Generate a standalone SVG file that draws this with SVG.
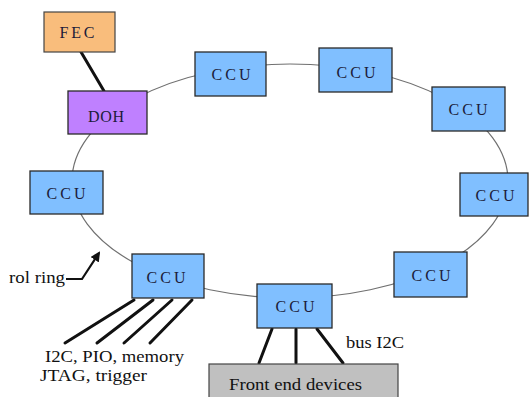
<svg xmlns="http://www.w3.org/2000/svg" width="529" height="397" viewBox="0 0 529 397">
<defs>
<style>
.ring{fill:none;stroke:#707070;stroke-width:1.2}
.ccu rect{fill:#80BFFF;stroke:#2a2a2a;stroke-width:1.3}
.lbl{font-family:"Liberation Serif","Times New Roman",serif;font-size:16px;fill:#1c1c3a;text-anchor:middle}
.thick{stroke:#111;stroke-width:3;fill:none;stroke-linecap:round}
.serif{font-family:"Liberation Serif","Times New Roman",serif;font-size:17px;fill:#111}
.small{font-size:16px}
</style>
<marker id="ah" markerWidth="10" markerHeight="10" refX="8" refY="5" orient="auto" markerUnits="userSpaceOnUse">
<path d="M0,0 L10,5 L0,10 z" fill="#111"/>
</marker>
</defs>
<rect width="529" height="397" fill="#fff"/>
<g id="connectors">
<ellipse class="ring" cx="290" cy="181" rx="218" ry="117"/>
<line class="thick" x1="81" y1="52" x2="104" y2="91"/>
<line class="thick" x1="134" y1="300" x2="65" y2="343"/>
<line class="thick" x1="153" y1="300" x2="97" y2="343"/>
<line class="thick" x1="172" y1="300" x2="124" y2="343"/>
<line class="thick" x1="192" y1="300" x2="150" y2="343"/>
<line class="thick" x1="272" y1="329" x2="259" y2="363"/>
<line class="thick" x1="296" y1="329" x2="296" y2="363"/>
<line class="thick" x1="317" y1="329" x2="343" y2="363"/>
<polyline points="66,279 82,279 99,253" fill="none" stroke="#111" stroke-width="2.2" marker-end="url(#ah)"/>
</g>
<g id="fec">
<rect x="44" y="12" width="71" height="40" fill="#F9BD7C" stroke="#444" stroke-width="1.2"/>
<text class="lbl" x="77" y="38" textLength="35" lengthAdjust="spacing">FEC</text>
</g>
<g id="doh">
<rect x="68" y="91" width="79" height="43" fill="#BF80FF" stroke="#2a2a2a" stroke-width="1.3"/>
<text class="lbl" x="106" y="122" textLength="36" lengthAdjust="spacing">DOH</text>
</g>
<g id="ccu1" class="ccu"><rect x="195" y="52" width="71" height="44"/><text class="lbl" x="231" y="80" textLength="39" lengthAdjust="spacing">CCU</text></g>
<g id="ccu2" class="ccu"><rect x="319" y="48" width="73" height="44"/><text class="lbl" x="356" y="78" textLength="39" lengthAdjust="spacing">CCU</text></g>
<g id="ccu3" class="ccu"><rect x="432" y="87" width="73" height="44"/><text class="lbl" x="468" y="115" textLength="39" lengthAdjust="spacing">CCU</text></g>
<g id="ccu4" class="ccu"><rect x="460" y="173" width="68" height="43"/><text class="lbl" x="495" y="201" textLength="39" lengthAdjust="spacing">CCU</text></g>
<g id="ccu5" class="ccu"><rect x="394" y="252" width="73" height="45"/><text class="lbl" x="431" y="281" textLength="39" lengthAdjust="spacing">CCU</text></g>
<g id="ccu6" class="ccu"><rect x="257" y="284" width="75" height="44"/><text class="lbl" x="295" y="312" textLength="39" lengthAdjust="spacing">CCU</text></g>
<g id="ccu7" class="ccu"><rect x="132" y="254" width="72" height="44"/><text class="lbl" x="166" y="283" textLength="39" lengthAdjust="spacing">CCU</text></g>
<g id="ccu8" class="ccu"><rect x="30" y="171" width="73" height="43"/><text class="lbl" x="66" y="199" textLength="39" lengthAdjust="spacing">CCU</text></g>
<g id="fed">
<rect x="209" y="364" width="189" height="40" fill="#C0C0C0" stroke="#444" stroke-width="1.2"/>
<text class="serif" x="229" y="390" textLength="133" lengthAdjust="spacingAndGlyphs">Front end devices</text>
</g>
<g id="labels">
<text class="serif" x="9" y="283" textLength="56" lengthAdjust="spacingAndGlyphs">rol ring</text>
<text class="serif small" x="45" y="362" textLength="139" lengthAdjust="spacingAndGlyphs">I2C, PIO, memory</text>
<text class="serif small" x="40" y="381" textLength="107" lengthAdjust="spacingAndGlyphs">JTAG, trigger</text>
<text class="serif" x="346" y="348" textLength="58" lengthAdjust="spacingAndGlyphs">bus I2C</text>
</g>
</svg>
